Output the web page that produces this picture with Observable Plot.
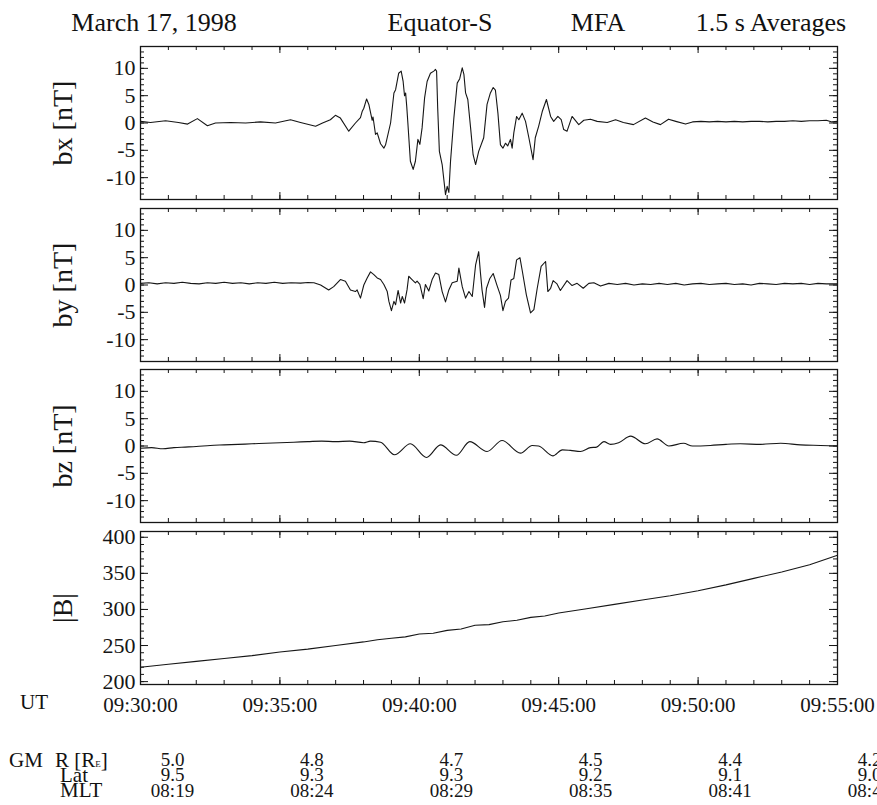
<!DOCTYPE html>
<html><head><meta charset="utf-8">
<script src="https://cdn.jsdelivr.net/npm/d3@7"></script>
<script src="https://cdn.jsdelivr.net/npm/@observablehq/plot@0.6"></script>
<style>
body{margin:0;background:#fff;}
#wrap{position:relative;width:877px;height:805px;overflow:hidden;font-family:"Liberation Serif",serif;color:#111;background:#fff;}
#wrap svg, #wrap svg text{font-family:"Liberation Serif",serif !important;}
.t{position:absolute;white-space:nowrap;line-height:1;}
.s{position:absolute;white-space:nowrap;line-height:14px;}
.p{position:absolute;left:0;}
</style></head><body><div id="wrap"></div>
<script>
// ---- data (minutes after 09:30:00 UT, 17 March 1998) ----
const bxTime = [0,0.36,0.9,1.36,1.69,2.04,2.4,2.69,3.23,3.77,4.3,4.84,5.38,5.74,6.28,6.53,6.81,6.99,7.17,7.47,7.71,7.89,7.95,8.01,8.11,8.19,8.31,8.34,8.43,8.49,8.61,8.73,8.79,8.97,9.09,9.15,9.26,9.35,9.42,9.47,9.51,9.55,9.59,9.68,9.78,9.86,9.95,10.02,10.1,10.19,10.28,10.4,10.52,10.58,10.62,10.66,10.72,10.82,10.94,11.0,11.06,11.12,11.24,11.36,11.45,11.54,11.6,11.66,11.74,11.84,11.93,12.02,12.13,12.31,12.43,12.55,12.65,12.73,12.82,12.91,13.0,13.09,13.17,13.27,13.33,13.39,13.49,13.57,13.69,13.81,13.93,14.08,14.16,14.28,14.41,14.56,14.71,14.82,14.97,15.09,15.18,15.3,15.48,15.72,15.9,16.14,16.38,16.74,17.04,17.32,17.68,18.11,18.38,18.65,18.94,19.2,19.55,19.8,20.1,20.4,20.7,21,21.3,21.6,21.9,22.2,22.5,22.8,23.1,23.4,23.7,24,24.3,24.6,24.8,25];
const bxValues = [0.3,0.1,0.4,0.1,-0.2,0.8,-0.5,0.0,0.1,0.0,0.2,0.0,0.6,0.1,-0.6,0.0,0.6,1.4,0.9,-1.5,0.0,1.0,2.1,2.7,4.4,3.4,0.5,1.1,-2.1,-1.8,-3.8,-4.6,-4.0,0.0,5.5,6.1,9.1,9.5,7.6,5.0,5.5,3.0,0.0,-7.0,-8.5,-7.0,-3.0,-3.9,-0.9,4.6,7.6,9.1,9.5,9.8,9.5,2.7,-5.2,-7.6,-13.1,-11.6,-12.7,-7.0,0.9,7.3,8.1,10.1,8.9,5.5,4.3,-0.9,-5.8,-7.6,-5.2,-2.7,3.4,5.5,6.5,6.0,1.8,-4.0,-4.6,-3.7,-4.2,-3.0,-4.6,-1.8,1.2,0.6,1.8,0.3,-2.7,-6.7,-2.7,-0.6,2.1,4.3,1.2,0.3,1.2,0.6,-1.2,-1.5,1.2,-0.3,0.5,0.7,0.3,0.1,0.6,0.1,-0.3,0.9,0.2,-0.3,0.7,0.3,-0.2,0.2,0.3,0.2,0.3,0.2,0.3,0.2,0.3,0.3,0.2,0.3,0.3,0.4,0.3,0.4,0.4,0.5,0.2,0.3];

const byTime = [0,0.3,0.6,0.9,1.2,1.5,1.8,2.1,2.4,2.7,3.0,3.3,3.6,3.9,4.2,4.5,4.8,5.1,5.4,5.74,6.0,6.22,6.46,6.75,6.93,7.17,7.35,7.53,7.71,7.77,7.89,8.01,8.13,8.25,8.37,8.49,8.61,8.73,8.85,8.91,9.0,9.09,9.15,9.24,9.33,9.39,9.47,9.56,9.62,9.74,9.86,9.92,10.02,10.14,10.22,10.34,10.46,10.58,10.7,10.82,10.94,11.06,11.18,11.36,11.42,11.54,11.66,11.78,11.9,12.02,12.13,12.19,12.25,12.34,12.41,12.53,12.65,12.79,12.91,13.0,13.09,13.2,13.29,13.39,13.49,13.61,13.69,13.84,13.99,14.11,14.23,14.37,14.53,14.61,14.71,14.8,14.94,15.06,15.3,15.48,15.66,15.88,16.08,16.26,16.5,16.8,17.1,17.4,17.7,18.0,18.3,18.6,18.9,19.2,19.5,19.8,20.1,20.4,20.7,21.0,21.3,21.6,21.9,22.2,22.5,22.8,23.1,23.4,23.7,24.0,24.3,24.6,25];
const byValues = [0.3,0.4,0.2,0.4,0.3,0.5,0.3,0.2,0.4,0.3,0.5,0.3,0.4,0.2,0.4,0.3,0.5,0.3,0.4,0.35,0.45,0.4,0.0,-0.9,-0.3,1.0,0.7,-0.9,-1.2,-0.9,-2.4,0.0,1.3,2.4,1.9,1.3,1.0,0.1,-1.2,-3.0,-4.7,-3.0,-3.6,-1.0,-3.3,-2.1,-3.3,-0.9,1.6,1.0,0.4,0.7,0.1,-2.5,0.1,-1.1,1.0,2.2,1.9,-1.2,-3.1,-0.9,0.4,0.7,3.1,-0.3,-2.4,-1.2,-2.1,3.7,6.1,2.4,-0.9,-4.1,-0.6,1.2,2.1,-0.1,-1.9,-4.7,-3.0,-2.4,0.9,1.2,4.6,5.0,2.7,-1.8,-5.1,-4.5,-0.6,3.4,4.3,-1.2,-0.6,0.8,0.2,-1.0,0.8,-0.1,0.3,-0.6,0.3,0.4,-0.2,0.3,0.1,0.3,0.0,0.2,0.1,0.3,0.1,0.3,0.0,0.2,0.3,0.1,0.2,0.3,0.1,0.2,0.0,0.3,0.2,0.1,0.3,0.2,0.3,0.1,0.3,0.2,0.2];

const bzTime = [0,0.4,0.8,1.2,1.6,2.0,2.5,3.0,3.5,4.0,4.5,5.0,5.5,6.0,6.5,7.0,7.5,8.0,8.25,8.61,9.11,9.68,10.26,10.76,11.33,11.81,12.43,12.97,13.63,14.05,14.28,14.79,15.13,15.42,15.78,16.14,16.36,16.62,16.86,17.15,17.58,18.11,18.53,18.95,19.48,19.8,20.44,21.0,21.52,22.24,22.96,23.67,24.39,25];
const bzValues = [-0.4,-0.3,-0.5,-0.3,-0.2,-0.1,0.1,0.2,0.3,0.4,0.5,0.6,0.7,0.8,0.9,0.8,0.9,0.6,0.9,0.7,-1.6,0.4,-2.1,0.2,-1.7,0.8,-1.0,1.0,-1.3,0.1,0.0,-1.8,-0.7,-0.8,-1.0,-0.3,-0.2,0.8,0.3,0.6,1.8,0.4,1.3,0.0,0.5,0.0,0.1,0.3,0.4,0.3,0.5,0.2,0.1,0.0];

const bTime = [0,1,2,3,4,5,6,7,8,8.5,9,9.5,10,10.5,11,11.5,12,12.5,13,13.5,14,14.5,15,16,17,18,19,20,21,22,23,24,25];
const bValues = [220,224,228,232,236,241,245,250,255,258,260,262,266,267,271,273,278,279,283,285,289,291,295,301,307,313,319,326,334,343,352,362,375];

const utTickMinutes = [0,5,10,15,20,25];
const gmR   = ["5.0","4.8","4.7","4.5","4.4","4.2"];
const gmLat = ["9.5","9.3","9.3","9.2","9.1","9.0"];
const gmMLT = ["08:19","08:24","08:29","08:35","08:41","08:47"];

const titleParts = [
  {text:"March 17, 1998", cx:154},
  {text:"Equator-S", cx:440},
  {text:"MFA", cx:598},
  {text:"1.5 s Averages", cx:771}
];

// ---- helpers ----
const T0 = Date.UTC(1998,2,17,9,30,0);
const toDate = m => new Date(T0 + m*60000);
const minuteTicks = d3.range(0,26).map(toDate);
const majorTicks = utTickMinutes.map(toDate);
const FONT = "Liberation Serif";
const W = 877, ML = 140, MR = 40, H = 153;
const innerW = W - ML - MR;
const INK = "#161616";

function panel({top, time, values, domain, majors, minors, label, curve, bottom}) {
  const data = time.map((t,i) => ({t: toDate(t), v: values[i]}));
  const mb = bottom ? 121 : 0;
  const marks = [
    Plot.line(data, {x:"t", y:"v", stroke:INK, strokeWidth:1.1, curve: curve || "linear"}),
    Plot.tickX(minuteTicks, {x:d=>d, insetTop:H-4, stroke:INK}),
    Plot.tickX(minuteTicks, {x:d=>d, insetBottom:H-4, stroke:INK}),
    Plot.tickX(majorTicks, {x:d=>d, insetTop:H-7, stroke:INK}),
    Plot.tickX(majorTicks, {x:d=>d, insetBottom:H-7, stroke:INK}),
    Plot.tickY(minors, {y:d=>d, insetRight:innerW-4, stroke:INK}),
    Plot.tickY(minors, {y:d=>d, insetLeft:innerW-4, stroke:INK}),
    Plot.tickY(majors, {y:d=>d, insetRight:innerW-8, stroke:INK}),
    Plot.tickY(majors, {y:d=>d, insetLeft:innerW-8, stroke:INK}),
    Plot.frame({stroke:INK, strokeWidth:1.3}),
    Plot.axisY({ticks:majors, tickSize:0, tickPadding:5, tickFormat:d=>String(d), label:null, fontSize:22, fontFamily:FONT}),
    Plot.text([label], {text:d=>d, frameAnchor:"left", textAnchor:"middle", lineAnchor:"middle", dx:-77, rotate:-90, fontSize:28, fontFamily:FONT, fill:INK})
  ];
  if (bottom) {
    marks.push(Plot.axisX({ticks:majorTicks, tickSize:0, tickPadding:13, tickFormat:d3.utcFormat("%H:%M:%S"), label:null, fontSize:21, fontFamily:FONT}));
    marks.push(Plot.text(majorTicks, {x:d=>d, text:(d,i)=>gmR[i], frameAnchor:"bottom", dy:81, dx:32, fontSize:19, fontFamily:FONT, fill:INK}));
    marks.push(Plot.text(majorTicks, {x:d=>d, text:(d,i)=>gmLat[i], frameAnchor:"bottom", dy:96, dx:32, fontSize:19, fontFamily:FONT, fill:INK}));
    marks.push(Plot.text(majorTicks, {x:d=>d, text:(d,i)=>gmMLT[i], frameAnchor:"bottom", dy:112, dx:32, fontSize:19, fontFamily:FONT, fill:INK}));
  }
  const svg = Plot.plot({
    width:W, height:H+mb, marginLeft:ML, marginRight:MR, marginTop:0, marginBottom:mb,
    style:{background:"transparent", overflow:"visible", fontFamily:FONT, fontSize:"21px", color:INK},
    x:{type:"utc", domain:[toDate(0), toDate(25)], ...(bottom ? {} : {axis:null})},
    y:{domain},
    marks
  });
  svg.classList.add("p");
  svg.style.top = top + "px";
  return svg;
}

const wrap = document.getElementById("wrap");
titleParts.forEach(p => {
  const s = document.createElement("div");
  s.className = "t";
  s.textContent = p.text;
  s.style.cssText = `left:${p.cx}px;top:10px;font-size:26px;transform:translateX(-50%);`;
  wrap.appendChild(s);
});

const fieldTicks = [-10,-5,0,5,10];
const fieldMinor = d3.range(-14,15);
wrap.appendChild(panel({top:46, time:bxTime, values:bxValues, domain:[-14,14], majors:fieldTicks, minors:fieldMinor, label:"bx [nT]"}));
wrap.appendChild(panel({top:207.5, time:byTime, values:byValues, domain:[-14,14], majors:fieldTicks, minors:fieldMinor, label:"by [nT]"}));
wrap.appendChild(panel({top:369, time:bzTime, values:bzValues, domain:[-14,14], majors:fieldTicks, minors:fieldMinor, label:"bz [nT]", curve:"monotone-x"}));
wrap.appendChild(panel({top:531, time:bTime, values:bValues, domain:[196,408], majors:[200,250,300,350,400], minors:d3.range(200,410,10), label:"|B|", bottom:true}));

const side = [
  {html:"UT", left:20, top:692, size:21, cls:"t"},
  {html:"GM", left:9, top:753, size:21, cls:"s"},
  {html:'R [R<span style="font-size:9px">E</span>]', left:55, top:753, size:21, cls:"s"},
  {html:"Lat", left:60, top:768, size:21, cls:"s"},
  {html:"MLT", left:60, top:783, size:21, cls:"s"}
];
side.forEach(p => {
  const s = document.createElement("div");
  s.className = p.cls;
  s.innerHTML = p.html;
  s.style.cssText = `left:${p.left}px;top:${p.top}px;font-size:${p.size}px;`;
  wrap.appendChild(s);
});
</script>
</body></html>
